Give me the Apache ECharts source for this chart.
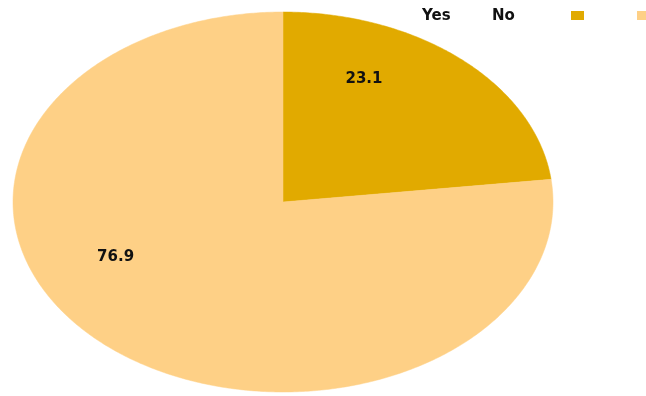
<!DOCTYPE html>
<html>
<head>
<meta charset="utf-8">
<script src="https://cdn.jsdelivr.net/npm/echarts@6/dist/echarts.min.js"></script>
<style>
  html, body { margin: 0; padding: 0; background: #fff; }
  #chart { width: 646px; height: 396px; }
</style>
</head>
<body>
<div id="chart"></div>
<script>
// Share of answers
const categories = ['Yes', 'No'];
const values = [23.1, 76.9];

const sliceColors = ['#E1AA00', '#FED086'];
// label anchors, as fractions of the ellipse radii from its centre
const labelAnchors = [[0.30, -0.647], [-0.62, 0.29]];

const total = values.reduce((a, b) => a + b, 0);
const FONT = 'DejaVu Sans';

const chart = echarts.init(document.getElementById('chart'), null, { renderer: 'canvas' });

// Elliptical pie: each slice drawn as a polygon from its cumulative share
function renderSlice(params, api) {
  const idx = params.dataIndex;
  const cx = 283, cy = 202, rx = 270, ry = 190;
  let before = 0;
  for (let i = 0; i < idx; i++) before += values[i];
  const v = api.value(0);
  const a0 = before / total * Math.PI * 2;
  const a1 = (before + v) / total * Math.PI * 2;
  const steps = Math.max(8, Math.ceil((a1 - a0) / 0.01));
  const pts = [[cx, cy]];
  for (let s = 0; s <= steps; s++) {
    const a = a0 + (a1 - a0) * s / steps;
    pts.push([cx + rx * Math.sin(a), cy - ry * Math.cos(a)]);
  }
  const anchor = labelAnchors[idx];
  return {
    type: 'group',
    children: [
      {
        type: 'polygon',
        shape: { points: pts },
        style: { fill: sliceColors[idx], stroke: sliceColors[idx], lineWidth: 0.5 }
      },
      {
        type: 'text',
        x: cx + rx * anchor[0],
        y: cy + ry * anchor[1],
        style: {
          text: String(v),
          fill: '#111',
          font: 'bold 15px "' + FONT + '"',
          align: 'center',
          verticalAlign: 'middle'
        }
      }
    ]
  };
}

// Legend: names first, then colour swatches
const legendGraphics = [];
const nameX = [422, 492];
const swatchX = [571, 637];
categories.forEach((c, i) => {
  legendGraphics.push({
    type: 'text',
    left: nameX[i],
    top: 9,
    style: { text: c, fill: '#111', font: 'bold 15px "' + FONT + '"' }
  });
  legendGraphics.push({
    type: 'rect',
    left: swatchX[i],
    top: 11,
    shape: { width: 13, height: 9 },
    style: { fill: sliceColors[i] }
  });
});

chart.setOption({
  animation: false,
  backgroundColor: '#ffffff',
  graphic: legendGraphics,
  series: [{
    type: 'custom',
    coordinateSystem: 'none',
    renderItem: renderSlice,
    data: values.map((v, i) => ({ name: categories[i], value: [v] }))
  }]
});
</script>
</body>
</html>
